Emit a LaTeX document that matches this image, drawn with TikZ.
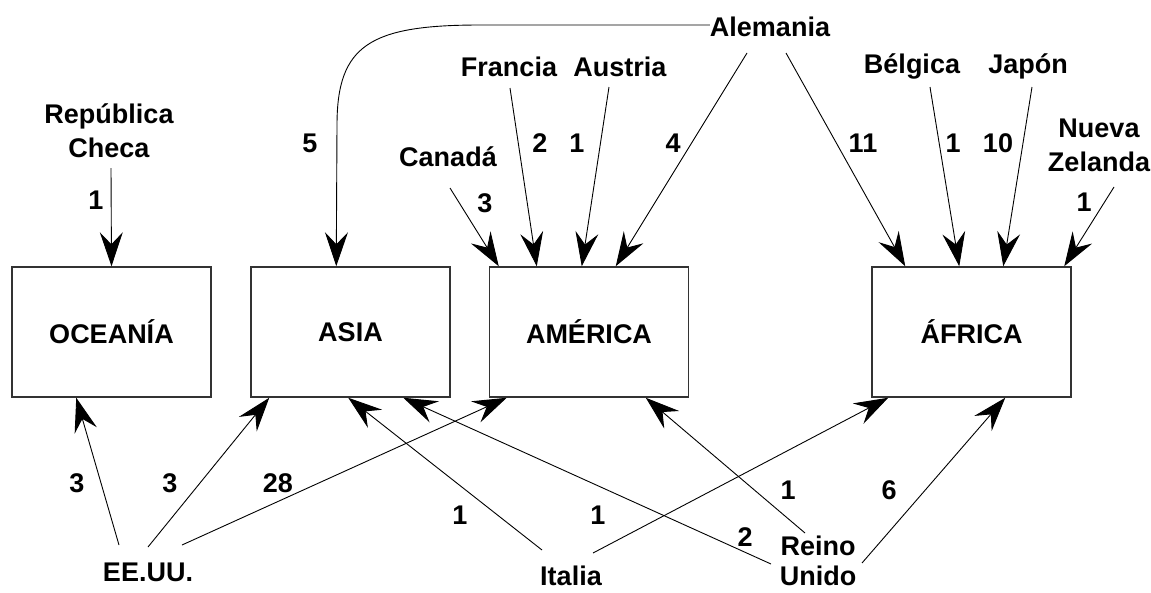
\documentclass[tikz,border=0pt]{standalone}
\usepackage{fontspec}
\setmainfont{Liberation Sans}
\usetikzlibrary{arrows.meta}

\tikzset{
  region/.style={draw=black!80, line width=1.5pt, minimum width=199pt, minimum height=130pt,
    inner sep=0pt, font=\fontsize{27}{34}\selectfont\bfseries},
  country/.style={align=center, inner sep=0pt, font=\fontsize{27}{34}\selectfont\bfseries},
  num/.style={inner sep=0pt, font=\fontsize{27}{34}\selectfont\bfseries},
  flow/.style={-{Stealth[length=34pt, width=23pt, inset=12pt]}, line width=0.9pt},
}

\begin{document}
\begin{tikzpicture}[x=1pt, y=-1pt]
  \useasboundingbox (0,0) rectangle (1151,592);

  % continents
  \node[region] (oceania) at (111.5,332) {OCEANÍA};
  \node[region] (asia)    at (350.5,332) {ASIA};
  \node[region] (america) at (589,332)   {AMÉRICA};
  \node[region] (africa)  at (971.5,332) {ÁFRICA};

  % countries
  \node[country] (repcheca) at (109,131)  {República\\Checa};
  \node[country] (alemania) at (770,27)   {Alemania};
  \node[country] (francia)  at (509,67)   {Francia};
  \node[country] (austria)  at (620,67)   {Austria};
  \node[country] (canada)   at (448,157)  {Canadá};
  \node[country] (belgica)  at (912,66)   {Bélgica};
  \node[country] (japon)    at (1028,66)  {Japón};
  \node[country] (nzelanda) at (1099,145) {Nueva\\Zelanda};
  \node[country] (eeuu)     at (148,572)  {EE.UU.};
  \node[country] (italia)   at (571,576)  {Italia};
  \node[country, font=\fontsize{27}{30}\selectfont\bfseries] (reino) at (818,561) {Reino\\Unido};

  % flows from above
  \draw[flow] ([xshift=2pt,yshift=-37pt]repcheca.center) -- (oceania.north);
  \draw[flow] ([yshift=2pt]alemania.west) -- (480,25) .. controls (370,25) and (337,45) .. (337,125)
    -- ([xshift=86pt]asia.north west);
  \draw[flow] ([xshift=2pt,yshift=-31pt]canada.center) -- ([xshift=10pt]america.north west);
  \draw[flow] ([xshift=1pt,yshift=-21pt]francia.center) -- ([xshift=48pt]america.north west);
  \draw[flow] ([xshift=-11pt,yshift=-20pt]austria.center) -- ([xshift=93pt]america.north west);
  \draw[flow] ([xshift=-23pt,yshift=-26pt]alemania.center) -- ([xshift=127pt]america.north west);
  \draw[flow] ([xshift=16pt,yshift=-26pt]alemania.center) -- ([xshift=34pt]africa.north west);
  \draw[flow] ([xshift=18pt,yshift=-21pt]belgica.center) -- ([xshift=88pt]africa.north west);
  \draw[flow] ([xshift=4pt,yshift=-21pt]japon.center) -- ([xshift=132pt]africa.north west);
  \draw[flow] ([xshift=15pt,yshift=-42pt]nzelanda.center) -- ([xshift=193pt]africa.north west);

  % flows from below
  \draw[flow] ([xshift=-29pt,yshift=27pt]eeuu.center) -- ([xshift=65pt]oceania.south west);
  \draw[flow] ([yshift=25pt]eeuu.center) -- ([xshift=19pt]asia.south west);
  \draw[flow] ([xshift=34pt,yshift=27pt]eeuu.center) -- ([xshift=18pt]america.south west);
  \draw[flow] ([xshift=-29pt,yshift=26pt]italia.center) -- ([xshift=98pt]asia.south west);
  \draw[flow] ([xshift=22pt,yshift=23pt]italia.center) -- ([xshift=17pt]africa.south west);
  \draw[flow] ([xshift=-47pt,yshift=-3pt]reino.center) -- ([xshift=153pt]asia.south west);
  \draw[flow] ([xshift=-13pt,yshift=28pt]reino.center) -- ([xshift=157pt]america.south west);
  \draw[flow] ([xshift=44pt,yshift=-2pt]reino.center) -- ([xshift=134pt]africa.south west);

  % quantities
  \node[num] (n-rc)  at (96,200)   {1};
  \node[num] (n-as)  at (310,143)  {5};
  \node[num] (n-ca)  at (485,203)  {3};
  \node[num] (n-fr)  at (540,143)  {2};
  \node[num] (n-au)  at (577,143)  {1};
  \node[num] (n-alm) at (673,143)  {4};
  \node[num] (n-alf) at (863,143)  {11};
  \node[num] (n-be)  at (953,143)  {1};
  \node[num] (n-ja)  at (998,143)  {10};
  \node[num] (n-nz)  at (1084,202) {1};
  \node[num] (n-eo)  at (77,483)   {3};
  \node[num] (n-ea)  at (170,483)  {3};
  \node[num] (n-em)  at (278,483)  {28};
  \node[num] (n-ia)  at (460,515)  {1};
  \node[num] (n-if)  at (598,515)  {1};
  \node[num] (n-ra)  at (745,537)  {2};
  \node[num] (n-rm)  at (788,490)  {1};
  \node[num] (n-rf)  at (889,490)  {6};
\end{tikzpicture}
\end{document}
